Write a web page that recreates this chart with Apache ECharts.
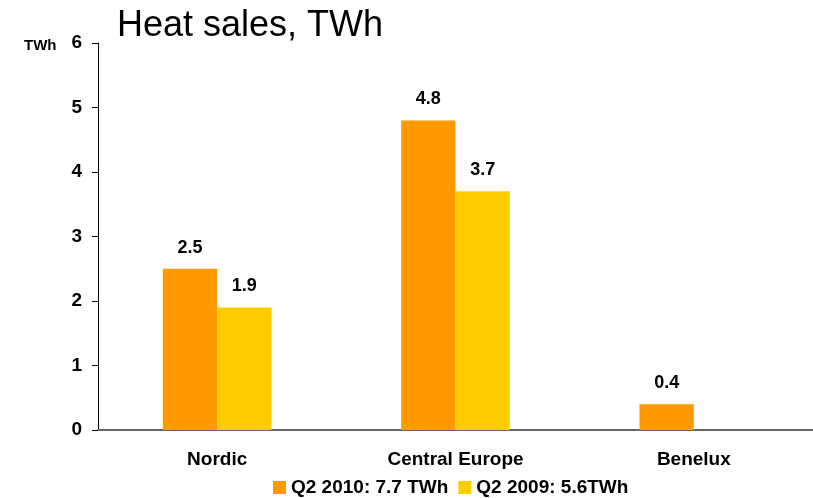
<!DOCTYPE html>
<html>
<head>
<meta charset="utf-8">
<script src="https://cdn.jsdelivr.net/npm/echarts@6/dist/echarts.min.js"></script>
<style>
html, body { margin: 0; padding: 0; background: #fff; }
#main { width: 813px; height: 498px; }
</style>
</head>
<body>
<div id="main"></div>
<script>
var regions = ['Nordic', 'Central Europe', 'Benelux'];
var q2010 = [2.5, 4.8, 0.4];
var q2009 = [1.9, 3.7, null];
var seriesNames = ['Q2 2010: 7.7 TWh', 'Q2 2009: 5.6TWh'];
var yTicks = [0, 1, 2, 3, 4, 5, 6];

var dom = document.getElementById('main');
var myChart = echarts.init(dom);
var font = 'Liberation Sans, Arial, sans-serif';

option = {
    textStyle: { fontFamily: font },
    title: [{
        text: 'Heat sales, TWh',
        left: 112,
        top: 3,
        textStyle: { fontFamily: font, fontSize: 36, fontWeight: 'normal', color: '#000' }
    }, {
        text: 'TWh',
        left: 19,
        top: 33,
        textStyle: { fontFamily: font, fontSize: 15, fontWeight: 'bold', color: '#000' }
    }],
    legend: {
        data: seriesNames,
        top: 473,
        left: 268,
        itemWidth: 13,
        itemHeight: 13,
        itemGap: 10,
        icon: 'rect',
        textStyle: { fontFamily: font, fontSize: 19, fontWeight: 'bold', color: '#000' }
    },
    grid: { left: 98, right: 0, top: 43, bottom: 68 },
    xAxis: {
        type: 'category',
        data: regions,
        axisLine: { lineStyle: { color: '#666', width: 2 } },
        axisTick: { length: 6, lineStyle: { color: '#333' } },
        axisLabel: { fontFamily: font, fontSize: 19, fontWeight: 'bold', color: '#000', margin: 20 }
    },
    yAxis: {
        type: 'value',
        min: 0,
        max: 6,
        interval: 1,
        splitLine: { show: false },
        axisLine: { show: true, lineStyle: { color: '#000' } },
        axisTick: { show: true, length: 6, lineStyle: { color: '#000' } },
        axisLabel: {
            fontFamily: font, fontSize: 19, fontWeight: 'bold', color: '#000', margin: 16,
            formatter: function (v) { return yTicks.indexOf(v) >= 0 ? String(v) : ''; }
        }
    },
    series: [{
        name: seriesNames[0],
        type: 'bar',
        data: q2010,
        barWidth: '22.8%',
        barGap: '0%',
        itemStyle: { color: '#FF9900' },
        label: { show: true, position: 'top', distance: 12, fontFamily: font, fontSize: 18, fontWeight: 'bold', color: '#000', formatter: function (p) { return p.value.toFixed(1); } }
    }, {
        name: seriesNames[1],
        type: 'bar',
        data: q2009,
        barWidth: '22.8%',
        itemStyle: { color: '#FFCC00' },
        label: { show: true, position: 'top', distance: 12, fontFamily: font, fontSize: 18, fontWeight: 'bold', color: '#000', formatter: function (p) { return p.value == null ? '' : p.value.toFixed(1); } }
    }]
};
myChart.setOption(option);
</script>
</body>
</html>
